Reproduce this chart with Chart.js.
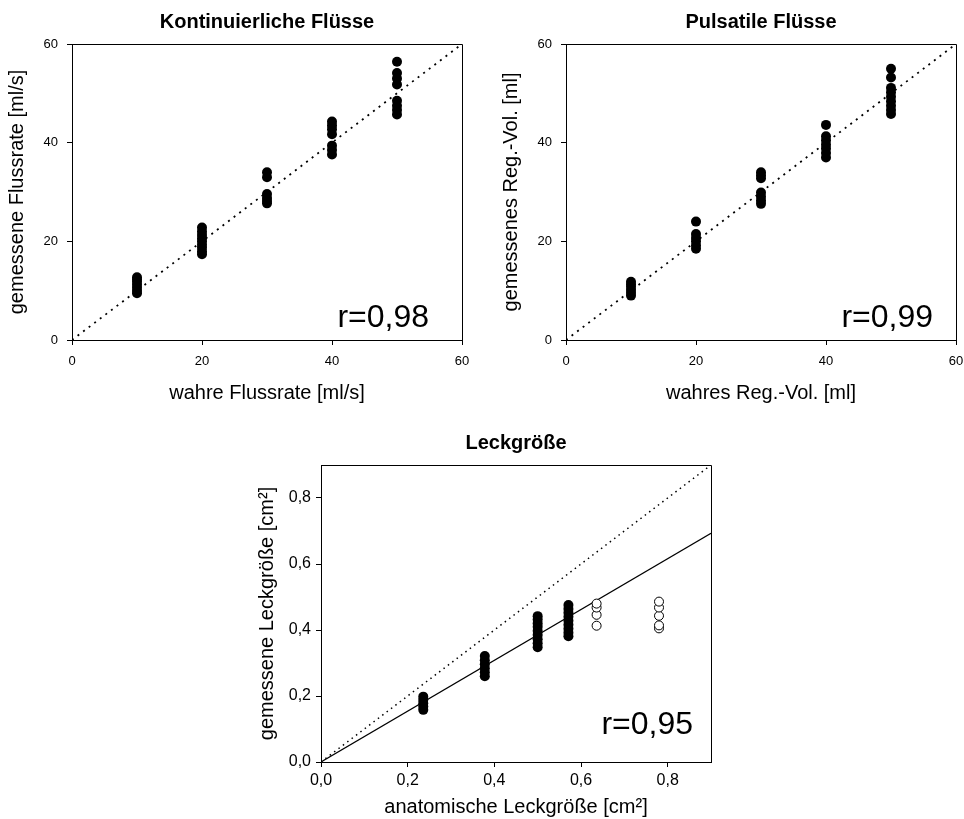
<!DOCTYPE html>
<html lang="de">
<head>
<meta charset="utf-8">
<title>Kontinuierliche und pulsatile Flüsse, Leckgröße</title>
<script src="https://cdn.jsdelivr.net/npm/chart.js@4.4.0/dist/chart.umd.min.js"></script>
<style>
  html, body { margin: 0; padding: 0; background: #fff; overflow: hidden; }
  #figure { position: relative; width: 964px; height: 819px; }
  #figure canvas { position: absolute; }
</style>
</head>
<body>
<div id="figure">
  <canvas id="flowChart" width="480" height="410" style="left:0;top:0"></canvas>
  <canvas id="volumeChart" width="480" height="410" style="left:494px;top:0"></canvas>
  <canvas id="leakChart" width="480" height="398" style="left:249px;top:421px"></canvas>
</div>
<script>
// Kontinuierliche Flüsse: wahre vs. gemessene Flussrate [ml/s]
const flowTrue = [10, 20, 30, 40, 50];
const flowMeasured = [
    [9.5, 10.0, 10.6, 11.2, 11.8, 12.3, 12.7],
    [17.4, 18.0, 18.7, 19.3, 20.0, 20.6, 21.3, 22.0, 22.8],
    [27.7, 28.2, 28.8, 29.6, 33.0, 34.0],
    [37.6, 38.5, 39.4, 41.7, 42.7, 43.5, 44.3],
    [45.7, 46.6, 47.5, 48.5, 51.8, 53.0, 54.1, 56.4]
];

// Pulsatile Flüsse: wahres vs. gemessenes Regurgitationsvolumen [ml]
const volumeTrue = [10, 20, 30, 40, 50];
const volumeMeasured = [
    [9.0, 9.6, 10.2, 10.8, 11.3, 11.8],
    [18.5, 19.2, 20.0, 20.7, 21.5, 24.0],
    [27.6, 28.3, 29.1, 29.9, 32.8, 33.4, 34.0],
    [37.0, 37.9, 38.8, 39.6, 40.5, 41.3, 43.6],
    [45.8, 46.6, 47.5, 48.4, 49.3, 50.2, 51.1, 53.2, 55.0]
];

// Leckgröße [cm²]: gefüllte Punkte, offene Punkte
const leakTrue = [0.236, 0.378, 0.5, 0.571];
const leakMeasured = [
    [0.158, 0.168, 0.178, 0.188, 0.198],
    [0.26, 0.272, 0.284, 0.296, 0.308, 0.321],
    [0.348, 0.36, 0.372, 0.385, 0.397, 0.41, 0.42, 0.432, 0.442],
    [0.381, 0.392, 0.404, 0.416, 0.428, 0.44, 0.452, 0.464, 0.476]
];
const leakOpenTrue = [0.636, 0.78];
const leakOpenMeasured = [
    [0.413, 0.446, 0.468, 0.48],
    [0.405, 0.414, 0.443, 0.468, 0.486]
];

// Identitätslinien und Regressionsgerade
const identityFlow = [0, 60];
const identityLeak = [0, 0.9];
const fitLeakX = [0, 0.9];
const fitLeakY = [0, 0.693];

const rValues = ['r=0,98', 'r=0,99', 'r=0,95'];

Chart.defaults.font.family = '"Liberation Sans", Arial, Helvetica, sans-serif';
Chart.defaults.color = '#000';

function toPoints(xs, ys) {
    return xs.flatMap((x, i) => ys[i].map(y => ({ x: x, y: y })));
}

function toLine(xs, ys) {
    return xs.map((x, i) => ({ x: x, y: ys[i] }));
}

function commaFormat(value) {
    return value.toFixed(1).replace('.', ',');
}

// Titel, r-Wert und Rahmen um die Zeichenfläche
const panelText = {
    id: 'panelText',
    afterDraw(chart, args, opts) {
        const { ctx, chartArea: a } = chart;
        const top = Math.round(a.top - 0.5) + 0.5;
        const right = Math.round(a.right - 0.5) + 0.5;
        ctx.save();
        ctx.strokeStyle = '#000';
        ctx.lineWidth = 1;
        ctx.beginPath();
        ctx.moveTo(a.left, top);
        ctx.lineTo(right, top);
        ctx.lineTo(right, a.bottom);
        ctx.stroke();

        ctx.fillStyle = '#000';
        ctx.font = 'bold 20px "Liberation Sans", Arial, sans-serif';
        ctx.textAlign = 'center';
        ctx.textBaseline = 'middle';
        ctx.fillText(opts.title, (a.left + a.right) / 2, a.top - 22);

        ctx.font = '32px "Liberation Sans", Arial, sans-serif';
        ctx.textAlign = 'right';
        ctx.textBaseline = 'alphabetic';
        ctx.fillText(opts.r, a.right - opts.rRight, a.bottom - opts.rBottom);
        ctx.restore();
    }
};

function makeAxis(position, max, step, title, s) {
    return {
        type: 'linear',
        position: position,
        min: 0,
        max: max,
        afterFit: scale => {
            if (position === 'left') scale.width = s.size;
            else scale.height = s.size;
        },
        border: { color: '#000', width: 1 },
        grid: { drawOnChartArea: false, tickLength: 5, color: '#000', lineWidth: 1 },
        ticks: {
            stepSize: step,
            includeBounds: false,
            padding: s.tickPad,
            autoSkip: false,
            maxRotation: 0,
            font: { size: s.tickSize },
            color: '#000',
            callback: s.format
        },
        title: {
            display: true,
            text: title,
            font: { size: 20 },
            color: '#000',
            padding: s.titlePad
        }
    };
}

function setupPanel(canvasId, cfg) {
    const datasets = [
        {
            data: cfg.points,
            pointRadius: 5,
            pointBackgroundColor: '#000',
            pointBorderWidth: 0,
            showLine: false
        }
    ];
    if (cfg.openPoints) {
        datasets.push({
            data: cfg.openPoints,
            pointRadius: 4.5,
            pointBackgroundColor: '#fff',
            pointBorderColor: '#000',
            pointBorderWidth: 1,
            showLine: false
        });
    }
    if (cfg.fit) {
        datasets.push({
            data: cfg.fit,
            showLine: true,
            borderColor: '#000',
            borderWidth: 1.2,
            pointRadius: 0
        });
    }
    datasets.push({
        data: cfg.identity,
        showLine: true,
        borderColor: '#000',
        borderWidth: cfg.dotWidth,
        borderDash: cfg.dash,
        borderCapStyle: 'butt',
        pointRadius: 0
    });

    return new Chart(document.getElementById(canvasId), {
        type: 'scatter',
        data: { datasets: datasets },
        options: {
            responsive: false,
            animation: false,
            events: [],
            layout: { padding: { left: 0, top: 44, right: 18, bottom: 0 } },
            scales: {
                x: makeAxis('bottom', cfg.max, cfg.step, cfg.xTitle, cfg.xStyle),
                y: makeAxis('left', cfg.max, cfg.step, cfg.yTitle, cfg.yStyle)
            },
            plugins: {
                legend: { display: false },
                tooltip: { enabled: false },
                panelText: cfg.text
            }
        },
        plugins: [panelText]
    });
}

const flowStyleX = { size: 70, tickSize: 13, tickPad: 9, titlePad: { bottom: 5 } };
const flowStyleY = { size: 72, tickSize: 13, tickPad: 9, titlePad: { top: 5 } };

setupPanel('flowChart', {
    points: toPoints(flowTrue, flowMeasured),
    identity: toLine(identityFlow, identityFlow),
    dash: [2, 5], dotWidth: 1.8,
    max: 60, step: 20,
    xTitle: 'wahre Flussrate [ml/s]',
    yTitle: 'gemessene Flussrate [ml/s]',
    xStyle: flowStyleX, yStyle: flowStyleY,
    text: { title: 'Kontinuierliche Flüsse', r: rValues[0], rRight: 33, rBottom: 13 }
});

setupPanel('volumeChart', {
    points: toPoints(volumeTrue, volumeMeasured),
    identity: toLine(identityFlow, identityFlow),
    dash: [2, 5], dotWidth: 1.8,
    max: 60, step: 20,
    xTitle: 'wahres Reg.-Vol. [ml]',
    yTitle: 'gemessenes Reg.-Vol. [ml]',
    xStyle: flowStyleX, yStyle: flowStyleY,
    text: { title: 'Pulsatile Flüsse', r: rValues[1], rRight: 23, rBottom: 13 }
});

setupPanel('leakChart', {
    points: toPoints(leakTrue, leakMeasured),
    openPoints: toPoints(leakOpenTrue, leakOpenMeasured),
    fit: toLine(fitLeakX, fitLeakY),
    identity: toLine(identityLeak, identityLeak),
    dash: [1.5, 4], dotWidth: 1.5,
    max: 0.9, step: 0.2,
    xTitle: 'anatomische Leckgröße [cm²]',
    yTitle: 'gemessene Leckgröße [cm²]',
    xStyle: { size: 57, tickSize: 16, tickPad: 4, titlePad: { bottom: 0 }, format: commaFormat },
    yStyle: { size: 72, tickSize: 16, tickPad: 5, titlePad: { top: 6 }, format: commaFormat },
    text: { title: 'Leckgröße', r: rValues[2], rRight: 18, rBottom: 28 }
});
</script>
</body>
</html>
